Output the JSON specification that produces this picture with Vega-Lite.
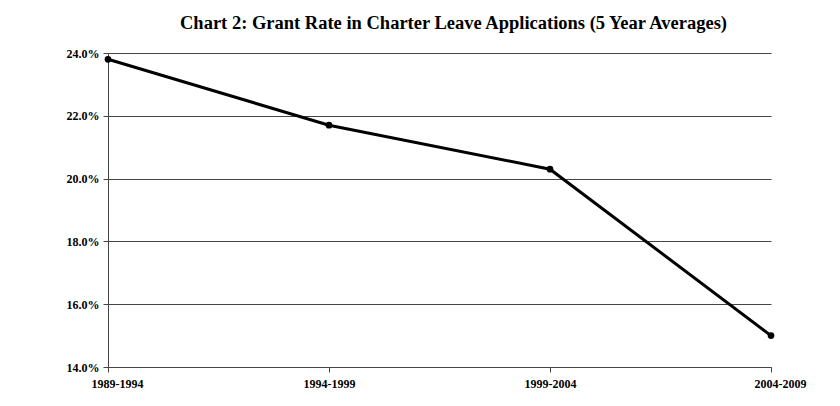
{
  "$schema": "https://vega.github.io/schema/vega-lite/v6.json",
  "autosize": {"type": "none"},
  "width": 663,
  "height": 314,
  "padding": {"left": 108, "top": 53, "right": 69, "bottom": 39},
  "background": "white",
  "title": {
    "text": "Chart 2: Grant Rate in Charter Leave Applications (5 Year Averages)",
    "font": "Liberation Serif",
    "fontSize": 18.5,
    "fontWeight": "bold",
    "color": "black",
    "anchor": "middle",
    "dx": 14,
    "offset": 15
  },
  "data": {
    "values": [
      {"period": "1989-1994", "rate": 0.238},
      {"period": "1994-1999", "rate": 0.217},
      {"period": "1999-2004", "rate": 0.203},
      {"period": "2004-2009", "rate": 0.150}
    ]
  },
  "config": {
    "view": {"stroke": null},
    "axis": {
      "labelFont": "Liberation Serif",
      "labelFontWeight": "bold",
      "labelFontSize": 12,
      "labelColor": "black",
      "domainColor": "#444",
      "tickColor": "#444",
      "gridColor": "#444",
      "title": null
    }
  },
  "encoding": {
    "x": {
      "field": "period",
      "type": "ordinal",
      "scale": {"type": "point", "padding": 0},
      "axis": {
        "labelAngle": 0,
        "tickSize": 5,
        "labelPadding": 6,
        "grid": false,
        "labelOffset": {"condition": {"test": "datum.value == '1989-1994' || datum.value == '2004-2009'", "value": 9}, "value": 0}
      }
    },
    "y": {
      "field": "rate",
      "type": "quantitative",
      "scale": {"domain": [0.14, 0.24], "zero": false},
      "axis": {
        "format": ".1%",
        "values": [0.14, 0.16, 0.18, 0.20, 0.22, 0.24],
        "tickSize": 5,
        "labelPadding": 4,
        "grid": true
      }
    }
  },
  "layer": [
    {"mark": {"type": "line", "color": "black", "strokeWidth": 3}},
    {"mark": {"type": "point", "filled": true, "color": "black", "size": 45, "opacity": 1}}
  ]
}
